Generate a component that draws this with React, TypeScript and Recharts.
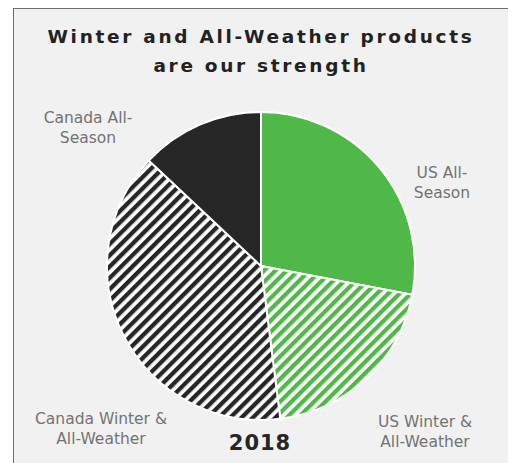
import { PieChart, Pie, Cell } from 'recharts'

const categories = [
  'US All-Season',
  'US Winter & All-Weather',
  'Canada Winter & All-Weather',
  'Canada All-Season',
]
const shares = [28, 20, 39, 13]
const labelLines = [
  ['US All-', 'Season'],
  ['US Winter &', 'All-Weather'],
  ['Canada Winter &', 'All-Weather'],
  ['Canada All-', 'Season'],
]
const titleLines = ['Winter and All-Weather products', 'are our strength']
const yearLabel = '2018'

const GREEN = '#50b848'
const BLACK = '#262626'
const fills = [GREEN, 'url(#hatchGreen)', 'url(#hatchBlack)', BLACK]

// where each outside label sits (x centre, first baseline)
const labelPos = [
  { x: 442, y: 178 },
  { x: 425, y: 427 },
  { x: 101, y: 424 },
  { x: 88, y: 123 },
]

const data = categories.map((name, i) => ({ name, value: shares[i] }))

const W = 508
const H = 463

export default function App() {
  return (
    <div style={{ position: 'relative', width: W, height: H, background: '#fff' }}>
      <style>{'body{margin:0}'}</style>
      <div
        style={{
          position: 'absolute',
          left: 13,
          top: 8,
          right: 0,
          bottom: 0,
          background: '#f1f1f1',
          borderTop: '1.5px solid #6e6e6e',
          borderLeft: '1.5px solid #6e6e6e',
        }}
      />
      <PieChart
        width={W}
        height={H}
        margin={{ top: 0, right: 0, bottom: 0, left: 0 }}
        style={{ position: 'absolute', left: 0, top: 0 }}
      >
        <defs>
          <pattern
            id="hatchGreen"
            width="8"
            height="8"
            patternUnits="userSpaceOnUse"
            patternTransform="rotate(45)"
          >
            <rect width="8" height="8" fill="#fff" />
            <rect width="4.3" height="8" fill={GREEN} />
          </pattern>
          <pattern
            id="hatchBlack"
            width="8"
            height="8"
            patternUnits="userSpaceOnUse"
            patternTransform="rotate(45)"
          >
            <rect width="8" height="8" fill="#fff" />
            <rect width="4.3" height="8" fill={BLACK} />
          </pattern>
        </defs>
        <Pie
          data={data}
          dataKey="value"
          nameKey="name"
          cx={261}
          cy={266}
          outerRadius={154}
          startAngle={90}
          endAngle={-270}
          stroke="#fff"
          strokeWidth={2}
          label={false}
          labelLine={false}
          isAnimationActive={false}
        >
          {data.map((d, i) => (
            <Cell key={d.name} fill={fills[i]} />
          ))}
        </Pie>
      </PieChart>
      <svg
        width={W}
        height={H}
        style={{ position: 'absolute', left: 0, top: 0, pointerEvents: 'none' }}
      >
        {titleLines.map((t, i) => (
          <text
            key={t}
            x={261}
            y={43 + i * 29}
            textAnchor="middle"
            fontFamily="DejaVu Sans"
            fontWeight="bold"
            fontSize={18.5}
            letterSpacing={2.7}
            fill="#222"
          >
            {t}
          </text>
        ))}
        {labelLines.map((lines, i) => (
          <text
            key={categories[i]}
            textAnchor="middle"
            fontFamily="DejaVu Sans"
            fontSize={15.5}
            fill="#737373"
          >
            {lines.map((l, j) => (
              <tspan key={l} x={labelPos[i].x} y={labelPos[i].y + j * 19.5}>
                {l}
              </tspan>
            ))}
          </text>
        ))}
        <text
          x={260}
          y={450}
          textAnchor="middle"
          fontFamily="DejaVu Sans"
          fontWeight="bold"
          fontSize={21}
          letterSpacing={1}
          fill="#262626"
        >
          {yearLabel}
        </text>
      </svg>
    </div>
  )
}
